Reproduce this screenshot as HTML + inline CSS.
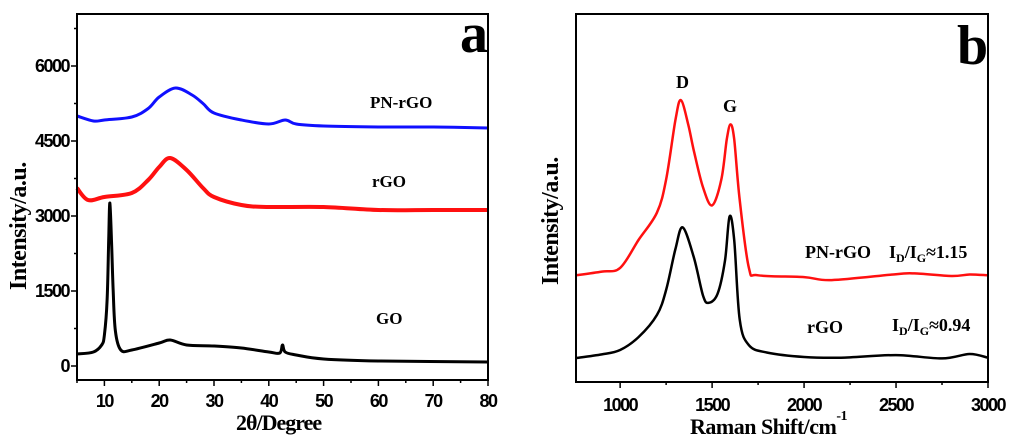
<!DOCTYPE html>
<html><head><meta charset="utf-8"><style>
body{margin:0;background:#fff;}
svg{display:block;}
.tk{font-family:"Liberation Sans",sans-serif;font-weight:bold;font-size:18px;letter-spacing:-1.5px;}
.tt{font-family:"Liberation Serif",serif;font-weight:bold;}
</style></head><body>
<svg id="fig" width="1024" height="440" viewBox="0 0 1024 440" xmlns="http://www.w3.org/2000/svg">
<g id="pa"></g>
<g id="pb"></g>
</svg>
<script>
// Panel a (XRD) data
const aX_pn = [5,8,10,15,18,20,23,26,28,30,35,40,43,45,50,60,70,80];
const aY_pn = [5000,4900,4920,4980,5150,5380,5560,5420,5250,5060,4920,4840,4920,4840,4800,4780,4780,4760];
const aX_rgo = [5,7,10,15,18,20,22,25,28,30,35,40,50,60,70,80];
const aY_rgo = [3560,3320,3380,3460,3720,3980,4160,3920,3560,3380,3220,3180,3180,3120,3120,3120];
const aX_go = [5,8,9.5,10,10.5,10.8,11,11.3,11.6,12,13,15,20,22,25,30,35,40,42,42.5,43,45,50,60,80];
const aY_go = [240,280,420,620,1320,2600,3260,2500,1500,700,320,320,460,520,420,400,360,280,260,420,280,220,140,100,80];
const aYTicks = [0,1500,3000,4500,6000];
const aXTicks = [10,20,30,40,50,60,70,80];
// Panel b (Raman) data
const bX_pn = [760,900,1000,1100,1200,1250,1300,1330,1370,1400,1450,1500,1550,1580,1600,1620,1650,1700,1750,2000,2150,2500,2600,2800,2900,3000];
const bY_pn = [29,30,31,38.6,46,55,71,76.6,70,63,53,48,55,66,70,66,49.5,31,29,28.5,27.7,29.3,29.5,28.8,29.2,29];
const bX_rgo = [760,900,1000,1100,1200,1250,1300,1340,1400,1450,1480,1530,1570,1595,1620,1650,1700,1800,2000,2200,2500,2750,2900,3000];
const bY_rgo = [6.5,7.5,8.7,12.2,18.2,25,36,42,34,23.6,21.5,24,33,45,38.6,17,10,8,6.8,6.6,7.3,6.4,7.6,6.6];
const bXTicks = [1000,1500,2000,2500,3000];

const NS="http://www.w3.org/2000/svg";
function mk(parent,tag,attrs,txt){const e=document.createElementNS(NS,tag);for(const k in attrs)e.setAttribute(k,attrs[k]);if(txt!==undefined)e.textContent=txt;parent.appendChild(e);return e;}

// ---- Panel a
const pa=document.getElementById('pa');
const aL=77,aR=488,aT=14,aB=380;
const ax=v=>aL+(v-5)/(80-5)*(aR-aL);
const ay=v=>366-v/20;
function line(parent,xs,ys,fx,fy,color,w,name){
  const P=xs.map((x,i)=>[fx(x),fy(ys[i])]);
  let d='M'+P[0][0].toFixed(1)+' '+P[0][1].toFixed(1);
  for(let i=0;i<P.length-1;i++){
    const p0=P[Math.max(0,i-1)],p1=P[i],p2=P[i+1],p3=P[Math.min(P.length-1,i+2)];
    const c1=[p1[0]+(p2[0]-p0[0])/6,p1[1]+(p2[1]-p0[1])/6];
    const c2=[p2[0]-(p3[0]-p1[0])/6,p2[1]-(p3[1]-p1[1])/6];
    d+='C'+c1[0].toFixed(1)+' '+c1[1].toFixed(1)+' '+c2[0].toFixed(1)+' '+c2[1].toFixed(1)+' '+p2[0].toFixed(1)+' '+p2[1].toFixed(1);
  }
  const p=mk(parent,'path',{d:d,fill:'none',stroke:color,'stroke-width':w,'stroke-linejoin':'round'});
  
  
}
line(pa,aX_pn,aY_pn,ax,ay,'#1010ff',3,'series-pn-rgo-xrd');
line(pa,aX_rgo,aY_rgo,ax,ay,'#ff1010',4,'series-rgo-xrd');
line(pa,aX_go,aY_go,ax,ay,'#000',3,'series-go-xrd');
const fa=mk(pa,'rect',{x:aL,y:aT,width:aR-aL,height:aB-aT,fill:'none',stroke:'#000','stroke-width':2});


for(let v=0;v<=7000;v+=750){const y=ay(v);mk(pa,'line',{x1:aL,x2:aL-(v%1500===0?6:3),y1:y,y2:y,stroke:'#000','stroke-width':1.5});}
aYTicks.forEach(v=>{const t=mk(pa,'text',{x:aL-8,y:ay(v)+6,'text-anchor':'end',class:'tk'},v);

});
for(let v=5;v<=80;v+=5){const x=ax(v);mk(pa,'line',{x1:x,x2:x,y1:aB,y2:aB+(v%10===0?6:3),stroke:'#000','stroke-width':1.5});}
aXTicks.forEach(v=>{const t=mk(pa,'text',{x:ax(v),y:407,'text-anchor':'middle',class:'tk'},v);

});
</script>
<script>
const pb=document.getElementById('pb');
const bL=576,bR=988,bT=14,bB=382;
const bx=v=>bL+(v-760)/(3000-760)*(bR-bL);
const by=v=>382-v*3.68;
line(pb,bX_pn,bY_pn,bx,by,'#ff1010',2.5,'series-pn-rgo-raman');
line(pb,bX_rgo,bY_rgo,bx,by,'#000',2.5,'series-rgo-raman');
const fb=mk(pb,'rect',{x:bL,y:bT,width:bR-bL,height:bB-bT,fill:'none',stroke:'#000','stroke-width':2});


for(let v=750;v<=3000;v+=250){if(v<760)continue;const x=bx(v);mk(pb,'line',{x1:x,x2:x,y1:bB,y2:bB+(v%500===0?6:3),stroke:'#000','stroke-width':1.5});}
bXTicks.forEach(v=>{const t=mk(pb,'text',{x:bx(v),y:411,'text-anchor':'middle',class:'tk'},v);

});
</script>
<svg style="position:absolute;left:0;top:0" width="1024" height="440">
<text class="tt" x="460" y="52" font-size="56">a</text>
<text class="tt" x="370" y="108" font-size="17">PN-rGO</text>
<text class="tt" x="372" y="187" font-size="17">rGO</text>
<text class="tt" x="376" y="324" font-size="17">GO</text>
<text class="tt" x="236" y="430" font-size="22" text-anchor="start" letter-spacing="-1">2θ/Degree</text>
<text class="tt" transform="translate(26,290) rotate(-90)" font-size="24" letter-spacing="-0.5">Intensity/a.u.</text>
<text class="tt" x="957" y="64" font-size="56">b</text>
<text class="tt" x="676" y="88" font-size="18">D</text>
<text class="tt" x="723" y="112" font-size="18">G</text>
<text class="tt" x="805" y="258" font-size="18">PN-rGO</text>
<text class="tt" x="889" y="258" font-size="18">I<tspan font-size="12" dy="4">D</tspan><tspan dy="-4">/I</tspan><tspan font-size="12" dy="4">G</tspan><tspan dy="-4">≈1.15</tspan></text>
<text class="tt" x="807" y="333" font-size="18">rGO</text>
<text class="tt" x="892" y="331" font-size="18">I<tspan font-size="12" dy="4">D</tspan><tspan dy="-4">/I</tspan><tspan font-size="12" dy="4">G</tspan><tspan dy="-4">≈0.94</tspan></text>
<text class="tt" x="690" y="434" font-size="22" letter-spacing="-0.5">Raman Shift/cm<tspan font-size="14" dy="-14">-1</tspan></text>
<text class="tt" transform="translate(558,285) rotate(-90)" font-size="24" letter-spacing="-0.5">Intensity/a.u.</text>
</svg>
</body></html>
